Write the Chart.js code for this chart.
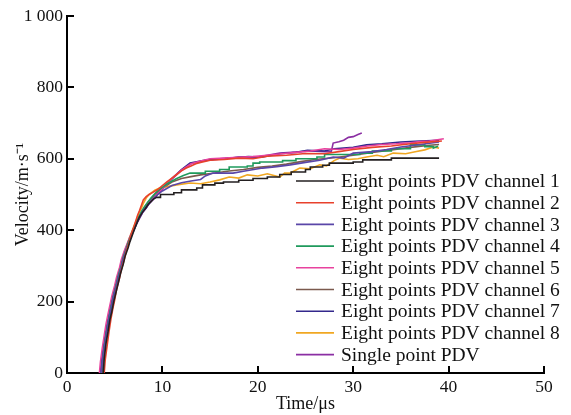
<!DOCTYPE html>
<html>
<head>
<meta charset="utf-8">
<script src="https://cdn.jsdelivr.net/npm/chart.js@4.4.0/dist/chart.umd.min.js"></script>
<style>
  html, body { margin: 0; padding: 0; background: #fff; }
  #wrap { width: 571px; height: 415px; }
</style>
</head>
<body>
<div id="wrap"><canvas id="chart" width="571" height="415"></canvas></div>
<script>
// [time in us, velocity in m/s]
const ch1 = [[3.8,0],[3.9,40],[4.1,85],[4.3,115],[4.5,150],[4.7,172],[4.9,200],[5.1,222],[5.4,255],[5.6,278],[5.9,305],[6.1,328],[6.4,350],[6.6,368],[6.9,390],[7.1,405],[7.4,425],[7.6,437],[7.9,450],[8.2,460],[8.5,472],[8.8,480],[9.1,488],[9.4,492],[9.8,492],[9.8,500],[11.2,500],[11.2,505],[12.0,505],[12.0,513],[13.6,513],[13.6,518],[14.2,518],[14.2,527],[15.5,527],[15.5,532],[16.4,532],[16.4,535],[18.0,535],[18.0,540],[19.5,540],[19.5,545],[21.0,545],[21.0,549],[22.3,549],[22.3,556],[23.5,556],[23.5,563],[25.0,563],[25.0,570],[25.5,570],[25.5,577],[26.8,577],[26.8,582],[27.5,582],[27.5,588],[30.0,588],[30.0,591],[31.0,591],[31.0,597],[34.0,597],[34.0,602],[39.0,602]];
const ch2 = [[3.9,0],[4.0,35],[4.2,75],[4.4,115],[4.6,150],[4.8,180],[5.0,205],[5.2,235],[5.5,265],[5.7,290],[6.0,318],[6.2,340],[6.5,365],[6.7,385],[7.0,408],[7.2,425],[7.4,442],[7.6,455],[7.8,470],[8.0,485],[8.3,494],[8.6,500],[9.0,506],[9.5,514],[10.0,525],[10.5,536],[11.0,546],[11.5,556],[12.0,566],[12.5,574],[13.0,580],[13.5,586],[14.0,590],[15.0,596],[16.5,598],[18.0,602],[19.5,600],[21.0,607],[23.0,610],[25.0,615],[27.0,614],[28.5,620],[30.0,626],[32.0,632],[34.0,636],[36.0,642],[37.5,646],[39.3,650]];
const ch3 = [[3.6,0],[3.7,30],[3.9,70],[4.1,105],[4.3,138],[4.5,165],[4.7,192],[4.9,218],[5.2,248],[5.4,270],[5.7,298],[5.9,320],[6.2,345],[6.5,365],[6.8,388],[7.1,405],[7.4,425],[7.7,440],[8.0,455],[8.4,468],[8.8,482],[9.2,492],[9.6,502],[10.0,510],[11.0,525],[12.0,533],[13.0,538],[14.0,542],[14.5,552],[15.3,560],[17.4,560],[18.5,565],[20.5,574],[22.0,578],[23.4,583],[25.0,590],[26.5,596],[27.9,605],[29.0,602],[30.0,616],[32.0,620],[33.5,626],[35.0,633],[37.0,640],[39.0,647]];
const ch4 = [[3.6,0],[3.7,30],[3.9,75],[4.1,110],[4.3,142],[4.5,170],[4.7,196],[4.9,220],[5.2,252],[5.4,275],[5.7,302],[5.9,325],[6.2,348],[6.4,365],[6.7,385],[6.9,400],[7.2,420],[7.5,435],[7.8,452],[8.1,465],[8.5,480],[8.8,490],[9.2,502],[9.5,510],[10.0,520],[10.5,530],[11.5,545],[12.2,553],[12.9,560],[14.5,560],[14.5,565],[16.0,565],[16.0,570],[17.0,570],[17.0,577],[18.9,577],[18.9,580],[19.5,580],[19.5,588],[20.2,588],[20.2,591],[22.6,591],[22.6,595],[24.0,595],[24.0,600],[26.2,600],[26.2,605],[27.0,605],[27.0,612],[30.7,612],[30.7,616],[32.0,616],[32.0,622],[34.0,622],[34.0,628],[36.0,628],[36.0,639],[37.5,639],[37.5,634],[38.4,634],[38.4,630],[38.9,635]];
const ch5 = [[3.4,0],[3.5,30],[3.7,70],[3.9,105],[4.1,138],[4.3,165],[4.5,190],[4.7,215],[5.0,245],[5.2,268],[5.5,295],[5.7,318],[6.0,342],[6.3,362],[6.6,382],[6.9,400],[7.2,418],[7.5,432],[7.8,448],[8.2,462],[8.6,476],[9.0,488],[9.5,502],[10.0,516],[11.0,545],[12.0,568],[13.0,586],[14.0,594],[15.0,600],[16.5,602],[18.0,604],[19.5,606],[21.0,610],[22.5,614],[24.0,618],[25.5,622],[27.0,628],[28.5,626],[30.0,630],[31.5,636],[33.0,640],[34.5,642],[36.0,645],[37.0,648],[38.0,650],[39.5,656]];
const ch6 = [[3.7,0],[3.8,35],[4.0,80],[4.2,115],[4.4,148],[4.6,175],[4.8,202],[5.0,228],[5.3,258],[5.5,280],[5.8,308],[6.0,330],[6.3,355],[6.6,375],[6.9,397],[7.2,415],[7.5,432],[7.8,448],[8.1,462],[8.5,478],[8.9,490],[9.2,500],[10.0,518],[11.0,535],[12.0,545],[13.0,550],[14.0,555],[15.5,560],[17.0,566],[18.5,570],[20.0,576],[21.5,580],[23.0,585],[24.5,592],[26.0,598],[28.0,603],[30.0,610],[32.0,618],[34.0,625],[36.0,632],[38.0,638],[39.0,640]];
const ch7 = [[3.5,0],[3.6,30],[3.8,70],[4.0,105],[4.2,138],[4.4,165],[4.6,192],[4.8,215],[5.1,245],[5.3,268],[5.6,296],[5.8,318],[6.1,345],[6.4,365],[6.7,385],[7.0,402],[7.3,420],[7.6,435],[7.9,450],[8.3,463],[8.6,475],[9.0,487],[9.5,502],[10.0,518],[10.8,540],[12.0,570],[12.9,588],[14.0,594],[14.7,597],[16.0,600],[17.5,603],[19.0,606],[20.5,605],[22.3,614],[24.0,618],[25.2,624],[27.0,622],[28.0,628],[30.0,632],[31.4,639],[33.0,642],[35.0,647],[37.0,650],[39.0,652]];
const ch8 = [[3.7,0],[3.8,35],[4.0,80],[4.2,115],[4.4,148],[4.6,175],[4.8,204],[5.0,230],[5.3,262],[5.5,285],[5.8,313],[6.0,335],[6.3,358],[6.5,375],[6.8,396],[7.0,410],[7.3,430],[7.5,445],[7.8,462],[8.0,475],[8.3,490],[8.6,500],[9.2,512],[9.7,518],[10.5,522],[11.5,527],[12.9,532],[14.0,530],[15.0,535],[16.0,541],[17.0,549],[18.0,546],[18.9,555],[20.0,552],[21.0,558],[22.3,549],[22.8,560],[23.4,560],[24.4,574],[25.5,572],[26.5,583],[27.2,580],[28.0,595],[28.6,602],[29.5,598],[30.5,600],[31.4,605],[32.5,610],[33.2,606],[34.2,616],[35.5,614],[36.5,620],[37.5,625],[38.4,633],[39.0,630]];
const single = [[3.5,0],[3.6,28],[3.8,68],[4.0,100],[4.2,132],[4.4,160],[4.6,188],[4.8,212],[5.1,242],[5.3,265],[5.6,293],[5.8,315],[6.1,340],[6.4,362],[6.7,382],[7.0,400],[7.3,418],[7.6,433],[7.9,448],[8.3,462],[8.6,474],[9.0,485],[9.5,500],[10.0,515],[10.8,538],[12.0,568],[13.0,586],[14.0,593],[15.0,597],[16.5,600],[18.0,605],[19.5,603],[21.0,610],[22.3,616],[24.0,619],[25.5,622],[27.0,620],[27.7,620],[27.9,644],[28.5,648],[29.0,652],[29.5,660],[30.0,662],[30.5,668],[30.9,672]];

const labels = ["Eight points PDV channel 1", "Eight points PDV channel 2", "Eight points PDV channel 3",
  "Eight points PDV channel 4", "Eight points PDV channel 5", "Eight points PDV channel 6",
  "Eight points PDV channel 7", "Eight points PDV channel 8", "Single point PDV"];
const series = [ch1, ch2, ch3, ch4, ch5, ch6, ch7, ch8, single];
const colors = ["#231f20", "#e8412c", "#5a46a8", "#1f9a5c", "#e8429e", "#7b5a4e", "#33288c", "#f0a722", "#8b2fa3"];

const xTicks = [10, 20, 30, 40, 50];
const yTicks = [200, 400, 600, 800, 1000];

const serif = "'Liberation Serif', 'Times New Roman', serif";

// tick marks point into the plot, and the legend sits inside it
const insideBits = {
  id: 'insideBits',
  afterDraw(chart) {
    const ctx = chart.ctx;
    const xs = chart.scales.x, ys = chart.scales.y;
    const area = chart.chartArea;
    ctx.save();
    ctx.strokeStyle = '#000';
    ctx.lineWidth = 2;
    xTicks.forEach(v => {
      const px = Math.round(xs.getPixelForValue(v));
      ctx.beginPath();
      ctx.moveTo(px, area.bottom);
      ctx.lineTo(px, area.bottom - 7);
      ctx.stroke();
    });
    yTicks.forEach(v => {
      const py = Math.round(ys.getPixelForValue(v));
      ctx.beginPath();
      ctx.moveTo(area.left, py);
      ctx.lineTo(area.left + 7, py);
      ctx.stroke();
    });

    // legend
    ctx.font = "19.5px " + serif;
    ctx.textBaseline = 'middle';
    ctx.fillStyle = '#111';
    chart.data.datasets.forEach((ds, i) => {
      const y = 181 + i * 21.7;
      ctx.strokeStyle = ds.borderColor;
      ctx.lineWidth = 1.6;
      ctx.beginPath();
      ctx.moveTo(296, y);
      ctx.lineTo(334, y);
      ctx.stroke();
      ctx.fillText(ds.label, 341, y + 1);
    });
    ctx.restore();
  }
};

new Chart("chart", {
  type: "line",
  data: {
    datasets: series.map((s, i) => ({
      label: labels[i],
      data: s.map(p => ({ x: p[0], y: p[1] })),
      borderColor: colors[i],
      borderWidth: 1.6,
      pointRadius: 0,
      fill: false,
      tension: 0
    }))
  },
  options: {
    responsive: false,
    animation: false,
    layout: { padding: { top: 16, right: 27, left: 0, bottom: 0 } },
    plugins: {
      legend: { display: false },
      tooltip: { enabled: false }
    },
    scales: {
      x: {
        type: 'linear',
        min: 0,
        max: 50,
        afterFit: s => { s.height = 42; },
        grid: { drawOnChartArea: false, drawTicks: false },
        border: { display: true, color: '#000', width: 2 },
        ticks: {
          stepSize: 10,
          padding: 4,
          color: '#111',
          font: { family: serif, size: 17.5 }
        },
        title: {
          display: true,
          text: "Time/μs",
          color: '#111',
          padding: { top: 0, bottom: 0 },
          font: { family: serif, size: 18 }
        }
      },
      y: {
        min: 0,
        max: 1000,
        afterFit: s => { s.width = 67; },
        grid: { drawOnChartArea: false, drawTicks: false },
        border: { display: true, color: '#000', width: 2 },
        ticks: {
          stepSize: 200,
          padding: 4,
          color: '#111',
          font: { family: serif, size: 17.5 },
          callback: val => val == 1000 ? "1 000" : val
        },
        title: {
          display: true,
          text: "Velocity/m·s⁻¹",
          color: '#111',
          padding: { top: 12, bottom: 0 },
          font: { family: serif, size: 18 }
        }
      }
    }
  },
  plugins: [insideBits]
});
</script>
</body>
</html>
